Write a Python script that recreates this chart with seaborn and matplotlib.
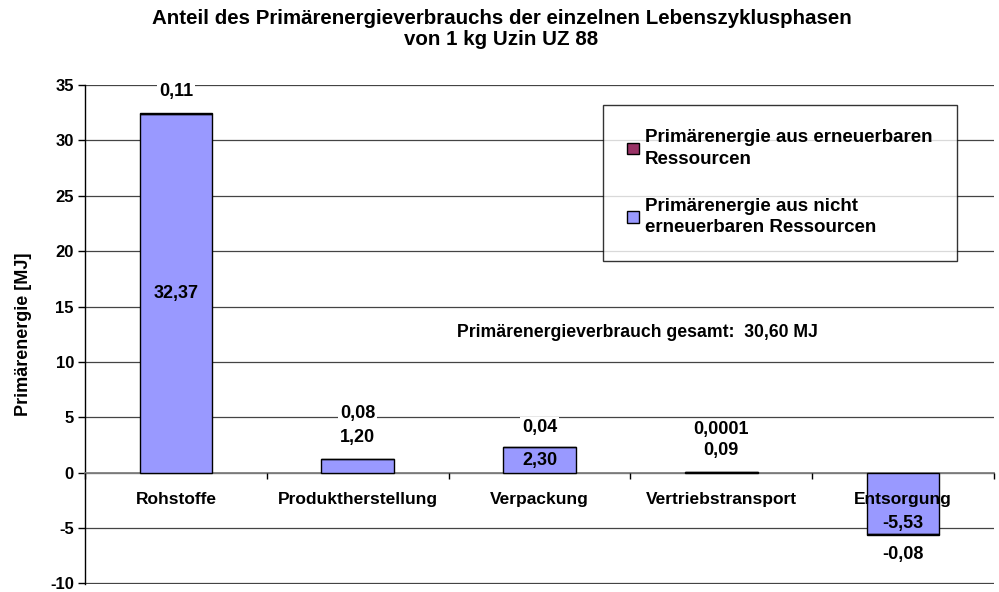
import numpy as np
import pandas as pd
import matplotlib
matplotlib.use("Agg")
import matplotlib.pyplot as plt
import seaborn as sns
from matplotlib.patches import Patch

# data
phasen = ["Rohstoffe", "Produktherstellung", "Verpackung", "Vertriebstransport", "Entsorgung"]
nicht_erneuerbar = [32.37, 1.20, 2.30, 0.09, -5.53]
erneuerbar = [0.11, 0.08, 0.04, 0.0001, -0.08]
label_ne = ["32,37", "1,20", "2,30", "0,09", "-5,53"]
label_e = ["0,11", "0,08", "0,04", "0,0001", "-0,08"]
# y positions of the value labels (as in the original chart)
pos_ne = [16.2, 3.2, 1.1, 2.0, -4.6]
pos_e = [34.4, 5.3, 4.1, 3.9, -7.4]

blau = "#9999FF"
lila = "#993366"

sns.set_style("white")
plt.rcParams["font.family"] = ["Liberation Sans", "DejaVu Sans"]
plt.rcParams["font.weight"] = "bold"
plt.rcParams["text.color"] = "black"
plt.rcParams["axes.labelcolor"] = "black"
plt.rcParams["xtick.color"] = "black"
plt.rcParams["ytick.color"] = "black"
plt.rcParams["axes.unicode_minus"] = False

df = pd.DataFrame({"phase": phasen, "ne": nicht_erneuerbar, "e": erneuerbar})

fig = plt.figure(figsize=(9.99, 5.92), dpi=100)
ax = fig.add_axes([85 / 999, 1 - 584 / 592, 909 / 999, 499 / 592])

# stacked bars: non-renewable first, renewable on top
sns.barplot(data=df, x="phase", y="ne", color=blau, width=0.4,
            edgecolor="black", linewidth=1, saturation=1, ax=ax, zorder=3)
sns.barplot(data=df, x="phase", y="e", bottom=df["ne"].values, color=lila, width=0.4,
            edgecolor="black", linewidth=1, saturation=1, ax=ax, zorder=3)

ax.set_ylim(-10.05, 35)
ax.set_xlim(-0.5, 4.5)
ax.set_yticks(np.arange(-10, 36, 5))
ax.yaxis.grid(True, color="#444444", linewidth=0.9, zorder=0)
ax.set_axisbelow(True)
# category names are drawn over the bars (see "Entsorgung")
ax.xaxis.set_zorder(4)

for s in ["top", "right"]:
    ax.spines[s].set_visible(False)
ax.spines["left"].set_color("black")
ax.spines["left"].set_linewidth(1)
ax.spines["bottom"].set_position(("data", 0))
ax.spines["bottom"].set_color("#808080")
ax.spines["bottom"].set_linewidth(1.3)

ax.tick_params(axis="y", left=True, length=5, width=1, labelsize=12, pad=3)
ax.tick_params(axis="x", which="major", length=0, labelsize=12.5, pad=14)
ax.set_xticks(np.arange(-0.5, 4.6, 1), minor=True)
ax.tick_params(axis="x", which="minor", bottom=True, length=4, width=1, color="black")
ax.set_xlabel("")
ax.set_ylabel("Primärenergie [MJ]", fontsize=13, fontweight="bold")
ax.yaxis.set_label_coords(-(85 - 32) / 909, 0.5)

for i in range(len(phasen)):
    ax.text(i, pos_ne[i], label_ne[i], ha="center", va="center", fontsize=13,
            fontweight="bold", zorder=5)
    ax.text(i, pos_e[i], label_e[i], ha="center", va="center", fontsize=13,
            fontweight="bold", zorder=5,
            bbox=dict(facecolor="white", edgecolor="none", pad=1.5))

ax.text(2.54, 12.7, "Primärenergieverbrauch gesamt:  30,60 MJ", ha="center", va="center",
        fontsize=12.7, fontweight="bold", zorder=5)

fig.suptitle("Anteil des Primärenergieverbrauchs der einzelnen Lebenszyklusphasen\nvon 1 kg Uzin UZ 88",
             x=0.502, y=0.985, fontsize=14.8, fontweight="bold", linespacing=1.15)

handles = [Patch(facecolor=lila, edgecolor="black"), Patch(facecolor=blau, edgecolor="black")]
labels = ["Primärenergie aus erneuerbaren\nRessourcen",
          "Primärenergie aus nicht\nerneuerbaren Ressourcen"]
leg = fig.legend(handles, labels, loc="upper left", bbox_to_anchor=(603 / 999, 1 - 105 / 592),
                 frameon=True, fancybox=False, edgecolor="black", fontsize=13.5,
                 labelspacing=1.6, handlelength=0.6, handleheight=0.6, handletextpad=0.35,
                 borderpad=1.3, borderaxespad=0)
leg.get_frame().set_linewidth(1)
leg.set_zorder(10)
for t in leg.get_texts():
    t.set_linespacing(1.35)

fig.savefig("out.png", dpi=100)
